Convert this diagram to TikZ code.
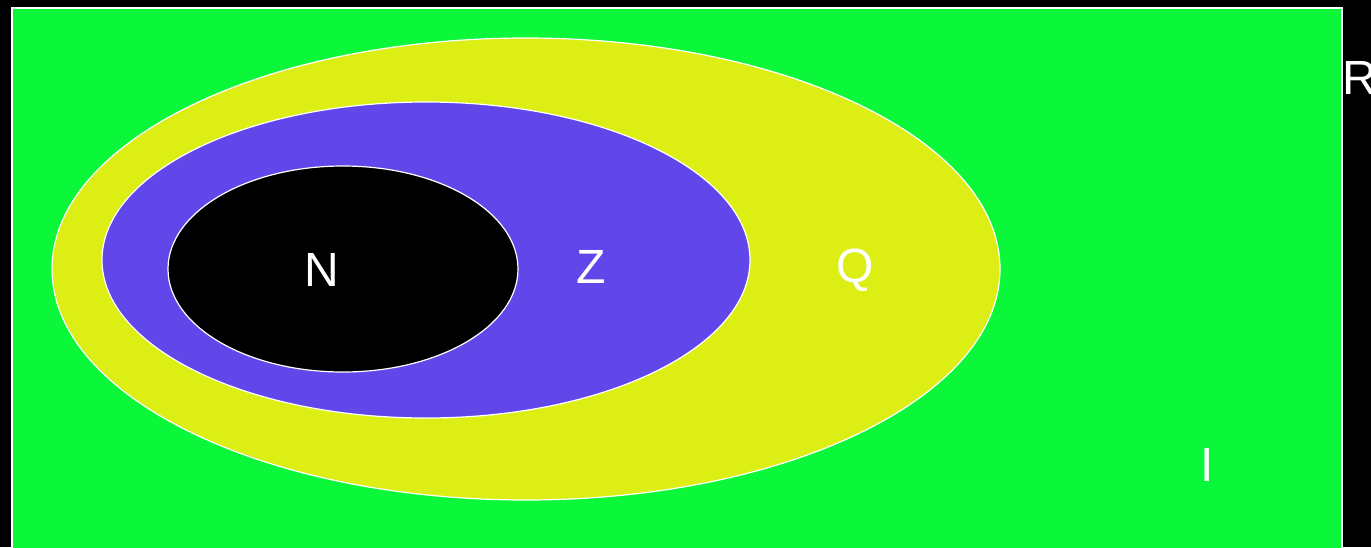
\documentclass[tikz,border=0pt]{standalone}
\usepackage{fontspec}
\setmainfont{Liberation Sans}
\usetikzlibrary{shapes.geometric}
\definecolor{setgreen}{RGB}{11,248,58}
\definecolor{setyellow}{RGB}{220,238,20}
\definecolor{setblue}{RGB}{97,71,234}

\begin{document}
\begin{tikzpicture}[
      S/.style={ellipse,draw=white,line width=1.2pt,inner sep=0pt},
      lbl/.style={text=white,font=\fontsize{48}{48}\selectfont,inner sep=0pt},
      x=1pt,y=-1pt]
    \fill[black] (0,0) rectangle (1371,547);
    \useasboundingbox (0,0) rectangle (1371,547);
    \filldraw[fill=setgreen,draw=white,line width=2pt] (12,8) rectangle (1342,560);
    \node[S,fill=setyellow,minimum width=948pt,minimum height=462pt] (Qset) at (526,269) {};
    \node[S,fill=setblue,minimum width=648pt,minimum height=316pt] (Zset) at (426,260) {};
    \node[S,fill=black,minimum width=350pt,minimum height=206pt] (Nset) at (343,269) {};
    \node[lbl] (N) at (322,270) {N};
    \node[lbl] (Z) at (591,267) {Z};
    \node[lbl] (Q) at (855,270) {Q};
    \node[lbl,anchor=west] (R) at (1342,78) {R};
    \node[lbl] (I) at (1207,465) {I};
  \end{tikzpicture}
\end{document}
